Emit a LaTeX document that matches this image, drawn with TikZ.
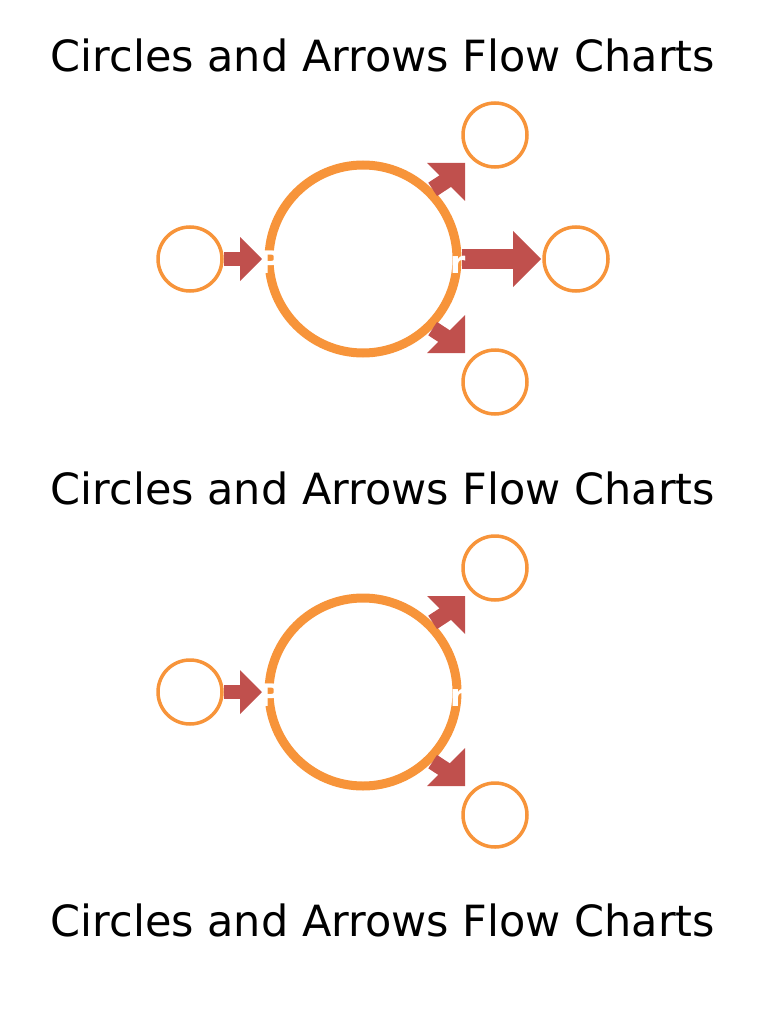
\documentclass[tikz,border=0pt]{standalone}
\usepackage{fontspec}
\setmainfont{DejaVu Sans}
\definecolor{org}{HTML}{F7943A}
\definecolor{arr}{HTML}{C0504D}
\tikzset{
  big/.style={circle,draw=org,line width=9pt,minimum size=188pt,inner sep=0pt},
  small/.style={circle,draw=org,line width=3.5pt,minimum size=64pt,inner sep=0pt},
  ttl/.style={font=\fontsize{43}{50}\selectfont},
  ph/.style={text=white,font=\bfseries\fontsize{31}{36}\selectfont},
  shaft/.style={draw=arr,line cap=butt},
  head/.style={fill=arr}
}
\begin{document}
\begin{tikzpicture}[x=1pt,y=-1pt]
\useasboundingbox (0,0) rectangle (768,1024);
\node[ttl] (t1) at (383,55) {Circles and Arrows Flow Charts};
\node[ttl] (t2) at (383,488) {Circles and Arrows Flow Charts};
\node[ttl] (t3) at (383,920) {Circles and Arrows Flow Charts};
% diagram 1
\node[big] (c1) at (363,259) {};
\node[small] (l1) at (190,259) {};
\node[small] (a1) at (495,135) {};
\node[small] (r1) at (576,259) {};
\node[small] (b1) at (495,382) {};
\draw[shaft,line width=14pt] (l1.east) -- (242,259);
\fill[head] (240,237) -- (262,259) -- (240,281) -- cycle;
\draw[shaft,line width=20pt] (c1.east) -- (514,259);
\fill[head] (513,231) -- (541,259) -- (513,287) -- cycle;
\draw[shaft,line width=16pt] (c1.45) -- (450,178);
\fill[head] (427,163) -- (465,163) -- (465,201) -- cycle;
\draw[shaft,line width=16pt] (c1.-45) -- (450,340);
\fill[head] (465,315) -- (465,353) -- (427,353) -- cycle;
\node[ph] (p1) at (363,262) {Placeholder};
% diagram 2
\node[big] (c2) at (363,692) {};
\node[small] (l2) at (190,692) {};
\node[small] (a2) at (495,568) {};
\node[small] (b2) at (495,815) {};
\draw[shaft,line width=14pt] (l2.east) -- (242,692);
\fill[head] (240,670) -- (262,692) -- (240,714) -- cycle;
\draw[shaft,line width=16pt] (c2.45) -- (450,611);
\fill[head] (427,596) -- (465,596) -- (465,634) -- cycle;
\draw[shaft,line width=16pt] (c2.-45) -- (450,773);
\fill[head] (465,748) -- (465,786) -- (427,786) -- cycle;
\node[ph] (p2) at (363,695) {Placeholder};
\end{tikzpicture}
\end{document}
